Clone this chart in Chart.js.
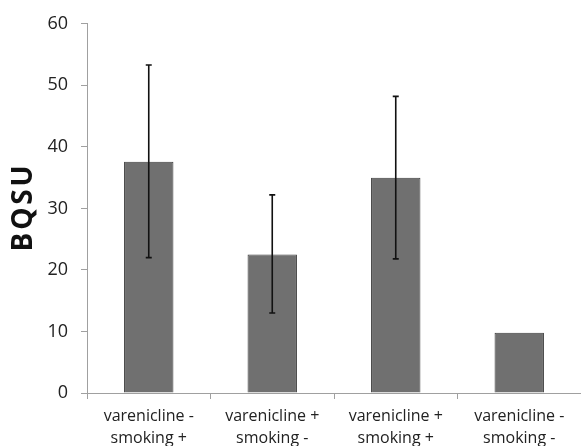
<!DOCTYPE html>
<html>
<head>
<meta charset="utf-8">
<script src="https://cdn.jsdelivr.net/npm/chart.js@4"></script>
<style>
  html, body { margin: 0; padding: 0; background: #fff; }
  #wrap { width: 581px; height: 446px; }
</style>
</head>
<body>
<div id="wrap"><canvas id="bqsu-canvas" width="581" height="446"></canvas></div>
<script>
// values
const CATEGORIES = [
    ['varenicline -', 'smoking +'],
    ['varenicline +', 'smoking -'],
    ['varenicline +', 'smoking +'],
    ['varenicline -', 'smoking -'],
];
const MEANS    = [37.6, 22.5, 35.0, 9.8];
const ERR_LOW  = [22.0, 13.0, 21.8, null];
const ERR_HIGH = [53.3, 32.2, 48.2, null];
const Y_TICKS  = [0, 10, 20, 30, 40, 50, 60];

const AXIS_GRAY = '#a0a0a0';
const FONT = 'Open Sans';

// whiskers drawn through the y scale
const errorBars = {
    id: 'errorBars',
    afterDatasetsDraw(chart) {
        const { ctx, scales: { y } } = chart;
        const meta = chart.getDatasetMeta(0);
        ctx.save();
        ctx.strokeStyle = '#111';
        ctx.lineWidth = 1.6;
        meta.data.forEach((bar, i) => {
            if (ERR_LOW[i] == null) return;
            const x = bar.x;
            const yLo = y.getPixelForValue(ERR_LOW[i]);
            const yHi = y.getPixelForValue(ERR_HIGH[i]);
            ctx.beginPath();
            ctx.moveTo(x, yLo); ctx.lineTo(x, yHi);
            ctx.moveTo(x - 3, yLo); ctx.lineTo(x + 3, yLo);
            ctx.moveTo(x - 3, yHi); ctx.lineTo(x + 3, yHi);
            ctx.stroke();
        });
        ctx.restore();
    }
};

new Chart(document.getElementById('bqsu-canvas'), {
    type: 'bar',
    data: {
        labels: CATEGORIES,
        datasets: [{
            data: MEANS,
            backgroundColor: '#707070',
            borderColor: '#3c3c3c',
            borderWidth: 1,
            barPercentage: 0.8,
            categoryPercentage: 0.5,
        }]
    },
    options: {
        responsive: false,
        animation: false,
        devicePixelRatio: 1,
        layout: { padding: { top: 18, right: 0, left: 0, bottom: 0 } },
        plugins: {
            legend: { display: false },
            tooltip: { enabled: false }
        },
        scales: {
            x: {
                afterFit: s => { s.height = 53; },
                border: { color: AXIS_GRAY, width: 1 },
                grid: { display: true, drawOnChartArea: false, drawTicks: true, tickLength: 6, color: AXIS_GRAY },
                ticks: {
                    color: '#222',
                    padding: 7,
                    maxRotation: 0,
                    font: { family: FONT, size: 16, lineHeight: 1.35 }
                }
            },
            y: {
                min: 0,
                max: 60,
                afterFit: s => { s.width = 87; },
                afterBuildTicks: s => { s.ticks = Y_TICKS.map(v => ({ value: v })); },
                border: { color: AXIS_GRAY, width: 1 },
                grid: { display: true, drawOnChartArea: false, drawTicks: true, tickLength: 6, color: AXIS_GRAY },
                ticks: {
                    color: '#222',
                    padding: 13,
                    font: { family: FONT, size: 18 }
                },
                title: {
                    display: true,
                    text: 'B\u200AQ\u200AS\u200AU',
                    color: '#111',
                    padding: { top: 7, bottom: 0 },
                    font: { family: FONT, size: 28, weight: 'bold', lineHeight: 1.2 }
                }
            }
        }
    },
    plugins: [errorBars]
});
</script>
</body>
</html>
